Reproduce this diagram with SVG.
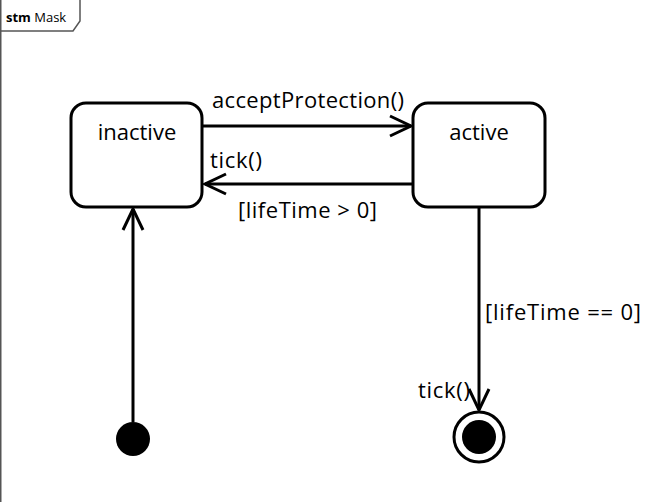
<svg xmlns="http://www.w3.org/2000/svg" width="672" height="502" viewBox="0 0 672 502">
<style>
.frame{fill:none;stroke:#555;stroke-width:1.5}
.state{fill:#fff;stroke:#000;stroke-width:3}
.edge{fill:none;stroke:#000;stroke-width:3}
.lbl{font-family:"Open Sans","Noto Sans",sans-serif;font-size:22px;fill:#000}
.hd{font-family:"Open Sans","Noto Sans",sans-serif;font-size:13px;fill:#000}
</style>
<defs>
<marker id="open" markerUnits="userSpaceOnUse" markerWidth="30" markerHeight="30" refX="22" refY="11" orient="auto" viewBox="0 0 30 22">
<path d="M1,1 L22,11 L1,21" fill="none" stroke="#000" stroke-width="3"/>
</marker>
</defs>
<rect width="672" height="502" fill="#fff"/>
<g id="frame">
<path class="frame" d="M0.75,0 V502"/>
<path class="frame" d="M0,31 H73 L80,21 V0"/>
<text class="hd" x="6" y="22"><tspan font-weight="bold">stm</tspan> Mask</text>
</g>
<g id="connectors">
<line class="edge" x1="203" y1="126" x2="411" y2="126" marker-end="url(#open)"/>
<line class="edge" x1="413" y1="184" x2="205" y2="184" marker-end="url(#open)"/>
<line class="edge" x1="479" y1="207" x2="479" y2="410" marker-end="url(#open)"/>
<line class="edge" x1="133" y1="422" x2="133" y2="209" marker-end="url(#open)"/>
<text class="lbl" x="212" y="108" textLength="192">acceptProtection()</text>
<text class="lbl" x="210" y="168" textLength="52">tick()</text>
<text class="lbl" x="238" y="218" textLength="139">[lifeTime &gt; 0]</text>
<text class="lbl" x="485" y="320" textLength="156">[lifeTime == 0]</text>
<text class="lbl" x="418" y="398" textLength="52">tick()</text>
</g>
<g id="inactive">
<rect class="state" x="71" y="103" width="131" height="104" rx="15"/>
<text class="lbl" x="137" y="140" text-anchor="middle">inactive</text>
</g>
<g id="active">
<rect class="state" x="413" y="103" width="132" height="104" rx="15"/>
<text class="lbl" x="479" y="140" text-anchor="middle">active</text>
</g>
<g id="initial">
<circle cx="133" cy="439" r="17" fill="#000"/>
</g>
<g id="final">
<circle cx="479" cy="437" r="25" fill="#fff" stroke="#000" stroke-width="3"/>
<circle cx="479" cy="437" r="17" fill="#000"/>
</g>
</svg>
